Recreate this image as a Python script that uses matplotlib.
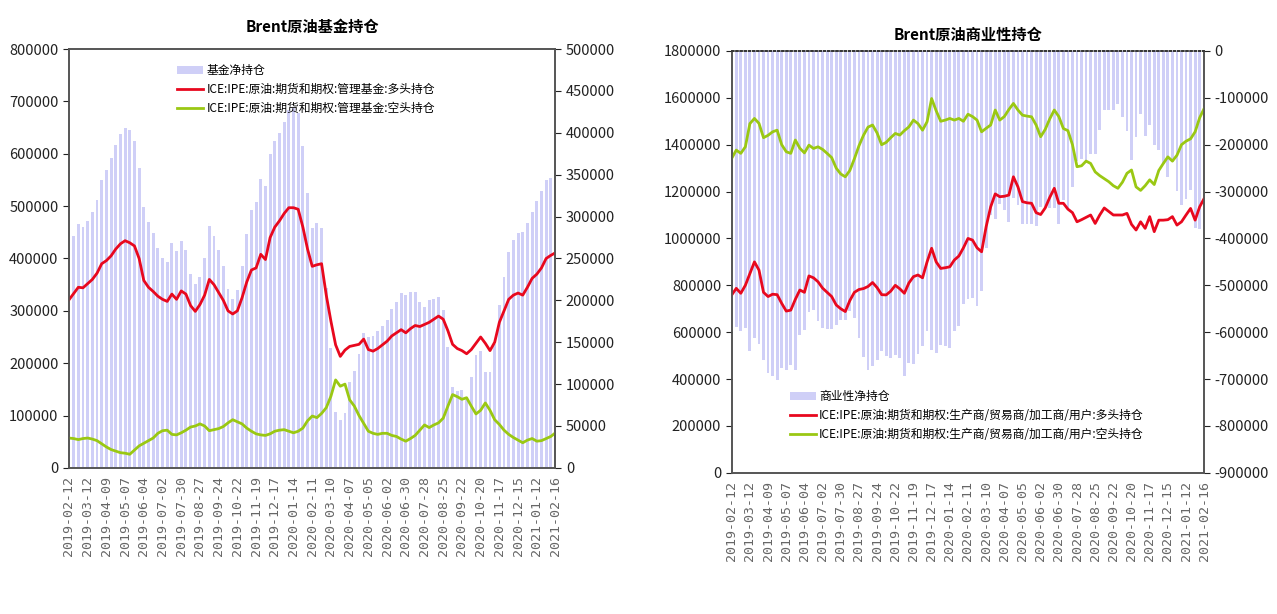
import numpy as np
import matplotlib.pyplot as plt

plt.rcParams['font.family'] = ['Liberation Sans Narrow', 'Noto Sans CJK SC', 'DejaVu Sans']
plt.rcParams['axes.unicode_minus'] = False

# DATA (weekly, 2019-02-12 .. 2021-02-16), values in thousands of contracts
tick_labels = ['2019-02-12', '2019-03-12', '2019-04-09', '2019-05-07', '2019-06-04', '2019-07-02',
               '2019-07-30', '2019-08-27', '2019-09-24', '2019-10-22', '2019-11-19', '2019-12-17',
               '2020-01-14', '2020-02-11', '2020-03-10', '2020-04-07', '2020-05-05', '2020-06-02',
               '2020-06-30', '2020-07-28', '2020-08-25', '2020-09-22', '2020-10-20', '2020-11-17',
               '2020-12-15', '2021-01-12', '2021-02-16']

# managed money
fund_long = [321, 333, 345, 344, 352, 360, 372, 390, 396, 405, 418, 428, 434, 430, 424, 400, 358, 345, 337, 328,
             322, 318, 332, 322, 338, 332, 310, 299, 312, 330, 360, 350, 335, 320, 300, 294, 300, 325, 355, 378,
             382, 408, 398, 440, 460, 472, 486, 497, 497, 494, 460, 418, 385, 388, 390, 330, 280, 235, 213, 225,
             232, 234, 236, 246, 226, 223, 228, 235, 242, 252, 258, 264, 258, 266, 272, 270, 274, 278, 284, 290,
             284, 262, 236, 228, 224, 218, 226, 238, 250, 238, 224, 240, 278, 300, 322, 330, 334, 330, 345, 362,
             370, 382, 400, 406, 411]
fund_short = [57, 56, 54, 56, 57, 55, 52, 46, 40, 35, 32, 29, 28, 26, 34, 42, 47, 52, 57, 66,
              71, 72, 64, 63, 67, 72, 78, 80, 84, 80, 71, 73, 75, 79, 86, 92, 88, 84, 76, 70,
              65, 63, 62, 65, 70, 72, 73, 70, 67, 70, 76, 90, 99, 96, 104, 115, 137, 168, 156, 160,
              130, 118, 100, 85, 70, 66, 64, 66, 66, 62, 60, 55, 51, 56, 62, 72, 82, 77, 82, 86,
              95, 118, 140, 136, 131, 134, 118, 103, 110, 124, 110, 92, 83, 72, 64, 58, 53, 48, 53, 56,
              51, 52, 56, 60, 67]
fund_net = [264, 277, 291, 288, 295, 305, 320, 344, 356, 370, 386, 399, 406, 404, 390, 358, 311, 293, 280, 262,
            251, 246, 268, 259, 271, 260, 232, 219, 228, 250, 289, 277, 260, 241, 214, 202, 212, 241, 279, 308,
            317, 345, 336, 375, 390, 400, 413, 427, 430, 424, 384, 328, 286, 292, 286, 215, 143, 67, 57, 65,
            102, 116, 136, 161, 156, 157, 164, 169, 176, 190, 198, 209, 207, 210, 210, 198, 192, 201, 202, 204,
            189, 144, 96, 92, 93, 84, 108, 135, 140, 114, 114, 148, 195, 228, 258, 272, 281, 282, 292, 306,
            319, 330, 344, 346, 344]

# producer / merchant / processor / user
comm_long = [759, 787, 766, 800, 850, 900, 865, 770, 752, 762, 760, 723, 690, 694, 740, 780, 770, 840, 832, 815,
             788, 770, 752, 716, 700, 688, 735, 770, 782, 786, 795, 812, 790, 760, 759, 775, 800, 785, 766, 810,
             837, 844, 832, 900, 958, 900, 872, 875, 879, 908, 925, 960, 1000, 993, 960, 943, 1050, 1135, 1190, 1178,
             1180, 1185, 1263, 1220, 1157, 1152, 1150, 1110, 1102, 1130, 1175, 1214, 1150, 1150, 1125, 1110, 1071,
             1080, 1090, 1100, 1064, 1100, 1130, 1115, 1100, 1100, 1100, 1107, 1060, 1036, 1071, 1043, 1093, 1029,
             1078, 1078, 1080, 1093, 1057, 1071, 1100, 1128, 1078, 1135, 1171]
comm_short = [1342, 1377, 1363, 1391, 1490, 1512, 1491, 1430, 1440, 1455, 1462, 1400, 1370, 1363, 1420, 1385,
              1365, 1398, 1384, 1391, 1380, 1363, 1345, 1300, 1275, 1263, 1290, 1340, 1395, 1440, 1475, 1484,
              1450, 1400, 1410, 1430, 1448, 1441, 1460, 1476, 1505, 1490, 1462, 1498, 1597, 1545, 1500, 1505,
              1512, 1505, 1512, 1500, 1530, 1520, 1505, 1455, 1470, 1484, 1548, 1505, 1520, 1550, 1576, 1548,
              1526, 1522, 1519, 1484, 1434, 1465, 1510, 1548, 1520, 1469, 1460, 1400, 1306, 1310, 1330, 1320,
              1284, 1268, 1255, 1242, 1225, 1214, 1240, 1278, 1292, 1220, 1205, 1225, 1250, 1230, 1290, 1320,
              1348, 1330, 1355, 1400, 1415, 1425, 1455, 1515, 1555]
comm_net = [-583, -590, -597, -591, -640, -612, -626, -660, -688, -693, -702, -677, -680, -669, -680, -605,
            -595, -558, -552, -576, -592, -593, -593, -584, -575, -575, -555, -570, -613, -654, -680, -672,
            -660, -640, -651, -655, -648, -656, -694, -666, -668, -646, -630, -598, -639, -645, -628, -630,
            -633, -597, -587, -540, -530, -527, -545, -512, -420, -349, -358, -327, -340, -365, -313, -328,
            -369, -370, -369, -374, -332, -335, -335, -334, -370, -319, -335, -290, -235, -230, -240, -220,
            -220, -168, -125, -127, -125, -114, -140, -171, -232, -184, -134, -182, -157, -201, -212, -242,
            -268, -237, -298, -329, -315, -297, -377, -380, -384]

BAR_C = '#cfcff7'
RED = '#e8081e'
GREEN = '#9ac813'
x = np.arange(len(fund_long))
k = 1000

fig = plt.figure(figsize=(12.77, 6.14), dpi=100)


def style_axes(ax, ax2):
    ax.set_zorder(ax2.get_zorder() + 1)
    ax.patch.set_visible(False)
    ax.set_xlim(0, len(x) - 1)
    ax.set_xticks(x[::4])
    ax.set_xticklabels(tick_labels, rotation=90, fontsize=9.5, family='DejaVu Sans Mono', color='#666666')
    ax.tick_params(axis='x', length=0, pad=6)
    for a in (ax, ax2):
        a.ticklabel_format(axis='y', style='plain', useOffset=False)
        a.tick_params(axis='y', direction='out', length=4, labelsize=10.5, colors='#222222')
        for s in a.spines.values():
            s.set_color('#555555')
            s.set_linewidth(1.2)


# LEFT: managed money
ax = fig.add_axes([0.054, 0.238, 0.381, 0.682])
ax2 = ax.twinx()
b1 = ax2.bar(x, np.array(fund_net) * k, width=0.62, color=BAR_C, label='基金净持仓')
l1, = ax.plot(x, np.array(fund_long) * k, color=RED, lw=2, label='ICE:IPE:原油:期货和期权:管理基金:多头持仓')
l2, = ax.plot(x, np.array(fund_short) * k, color=GREEN, lw=2, label='ICE:IPE:原油:期货和期权:管理基金:空头持仓')
ax.set_ylim(0, 800000)
ax.set_yticks(np.arange(0, 800001, 100000))
ax2.set_ylim(0, 500000)
ax2.set_yticks(np.arange(0, 500001, 50000))
style_axes(ax, ax2)
ax.set_title('Brent原油基金持仓', fontsize=11, fontweight='bold', pad=12)
ax.legend([b1, l1, l2], [b1.get_label(), l1.get_label(), l2.get_label()], loc='upper left',
          bbox_to_anchor=(0.2, 0.99), frameon=False, handlelength=2.2,
          handletextpad=0.3, labelspacing=0.5, prop={'family': ['Noto Sans CJK SC'], 'size': 8.5})

# RIGHT: commercial
bx = fig.add_axes([0.573, 0.230, 0.370, 0.687])
bx2 = bx.twinx()
b2 = bx2.bar(x, np.array(comm_net) * k, width=0.62, color=BAR_C, label='商业性净持仓')
r1, = bx.plot(x, np.array(comm_long) * k, color=RED, lw=2,
              label='ICE:IPE:原油:期货和期权:生产商/贸易商/加工商/用户:多头持仓')
r2, = bx.plot(x, np.array(comm_short) * k, color=GREEN, lw=2,
              label='ICE:IPE:原油:期货和期权:生产商/贸易商/加工商/用户:空头持仓')
bx.set_ylim(0, 1800000)
bx.set_yticks(np.arange(0, 1800001, 200000))
bx2.set_ylim(-900000, 0)
bx2.set_yticks(np.arange(-900000, 1, 100000))
style_axes(bx, bx2)
for a in (bx, bx2):
    a.spines['top'].set_linestyle((0, (1, 1.5)))
    a.spines['top'].set_color('#333333')
bx.set_title('Brent原油商业性持仓', fontsize=11, fontweight='bold', pad=8)
bx.legend([b2, r1, r2], [b2.get_label(), r1.get_label(), r2.get_label()], loc='lower left',
          bbox_to_anchor=(0.1, 0.05), frameon=False, handlelength=2.2,
          handletextpad=0.3, labelspacing=0.5, prop={'family': ['Noto Sans CJK SC'], 'size': 8.5})

fig.savefig('out.png', dpi=100)
